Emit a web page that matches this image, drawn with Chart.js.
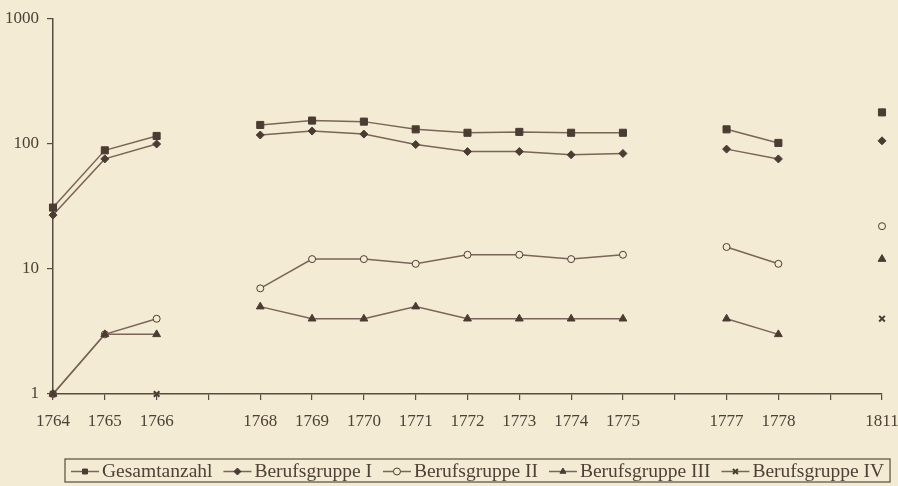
<!DOCTYPE html>
<html>
<head>
<meta charset="utf-8">
<script src="https://cdn.jsdelivr.net/npm/chart.js@4.4.0/dist/chart.umd.min.js"></script>
<style>
  html, body { margin: 0; padding: 0; background: #f3ebd3; }
  #wrap { width: 898px; height: 486px; position: relative; }
</style>
</head>
<body>
<div id="wrap"><canvas id="chart"></canvas></div>
<script>
// years on the x axis, blanks are the missing years
const labels = ['1764', '1765', '1766', '', '1768', '1769', '1770', '1771', '1772', '1773', '1774', '1775', '', '1777', '1778', '', '1811'];

const gesamt    = [31, 89, 116, null, 142, 154, 151, 131, 123, 125, 123, 123, null, 131, 102, null, 179];
const gruppeI   = [27, 76, 100, null, 118, 127, 120, 99, 87, 87, 82, 84, null, 91, 76, null, 106];
const gruppeII  = [1, 3, 4, null, 7, 12, 12, 11, 13, 13, 12, 13, null, 15, 11, null, 22];
const gruppeIII = [1, 3, 3, null, 5, 4, 4, 5, 4, 4, 4, 4, null, 4, 3, null, 12];
const gruppeIV  = [1, null, 1, null, null, null, null, null, null, null, null, null, null, null, null, null, 4];

const yTicks = [1, 10, 100, 1000];

const LINE = '#7a6558';
const MARK = '#4b3c33';
const TEXT = '#4f4037';
const BG = '#f3ebd3';
const FONT = "'Liberation Serif', 'Times New Roman', serif";

function series(label, data, style, radius, fill, order) {
    return {
        label: label,
        data: data,
        order: order,
        borderColor: LINE,
        borderWidth: 1.5,
        pointStyle: style,
        pointRadius: radius,
        pointHoverRadius: radius,
        pointBackgroundColor: fill,
        pointBorderColor: MARK,
        pointBorderWidth: style === 'crossRot' ? 2 : 1,
        tension: 0,
        spanGaps: false,
        fill: false,
        clip: false
    };
}

const datasets = [
    series('Gesamtanzahl', gesamt, 'rect', 5, MARK, 0),
    series('Berufsgruppe I', gruppeI, 'rectRot', 4, MARK, 1),
    series('Berufsgruppe II', gruppeII, 'circle', 3.5, BG, 4),
    series('Berufsgruppe III', gruppeIII, 'triangle', 4.5, MARK, 3),
    series('Berufsgruppe IV', gruppeIV, 'crossRot', 4, MARK, 2)
];

// boxed legend with line + marker, like the printed one
const boxLegend = {
    id: 'boxLegend',
    afterDraw(chart) {
        const ctx = chart.ctx;
        const top = 459, bottom = 482, left = 65;
        const cy = (top + bottom) / 2 + 1;
        ctx.save();
        ctx.font = '19.5px ' + FONT;
        ctx.textBaseline = 'middle';
        let x = 71;
        chart.data.datasets.forEach((ds) => {
            ctx.strokeStyle = LINE;
            ctx.lineWidth = 1.5;
            ctx.beginPath();
            ctx.moveTo(x, cy);
            ctx.lineTo(x + 28, cy);
            ctx.stroke();
            ctx.fillStyle = ds.pointBackgroundColor;
            ctx.strokeStyle = MARK;
            ctx.lineWidth = ds.pointBorderWidth;
            Chart.helpers.drawPoint(ctx, {
                pointStyle: ds.pointStyle,
                radius: Math.min(ds.pointRadius, 3.5),
                rotation: 0,
                borderWidth: ds.pointBorderWidth
            }, x + 14, cy);
            x += 31;
            ctx.fillStyle = TEXT;
            ctx.fillText(ds.label, x, cy);
            x += ctx.measureText(ds.label).width + 11;
        });
        ctx.strokeStyle = '#5a4b42';
        ctx.lineWidth = 1.2;
        ctx.strokeRect(left, top, x - 5 - left, bottom - top);
        ctx.restore();
    }
};

new Chart(document.getElementById('chart'), {
    type: 'line',
    data: { labels: labels, datasets: datasets },
    options: {
        responsive: true,
        maintainAspectRatio: false,
        animation: false,
        layout: { padding: { top: 19, right: 16, bottom: 0, left: 0 } },
        plugins: {
            legend: { display: false },
            tooltip: { enabled: false }
        },
        scales: {
            x: {
                type: 'category',
                offset: false,
                grid: {
                    display: true,
                    drawOnChartArea: false,
                    drawTicks: true,
                    tickLength: 6,
                    color: '#5a4b42',
                    lineWidth: 1.2
                },
                border: { display: true, color: '#5a4b42', width: 1.5 },
                ticks: {
                    autoSkip: false,
                    maxRotation: 0,
                    padding: 11,
                    color: TEXT,
                    font: { family: FONT, size: 17 }
                },
                afterFit(scale) {
                    scale.height = 92;
                    scale.paddingLeft = 0;
                    scale.paddingRight = 0;
                }
            },
            y: {
                type: 'logarithmic',
                min: 1,
                max: 1000,
                grid: {
                    display: true,
                    drawOnChartArea: false,
                    drawTicks: true,
                    tickLength: 6,
                    color: '#5a4b42',
                    lineWidth: 1.2
                },
                border: { display: true, color: '#5a4b42', width: 1.5 },
                afterBuildTicks(scale) {
                    scale.ticks = yTicks.map(v => ({ value: v }));
                },
                ticks: {
                    padding: 8,
                    color: TEXT,
                    font: { family: FONT, size: 17 },
                    callback: v => String(v)
                },
                afterFit(scale) { scale.width = 53; }
            }
        }
    },
    plugins: [boxLegend]
});
</script>
</body>
</html>
